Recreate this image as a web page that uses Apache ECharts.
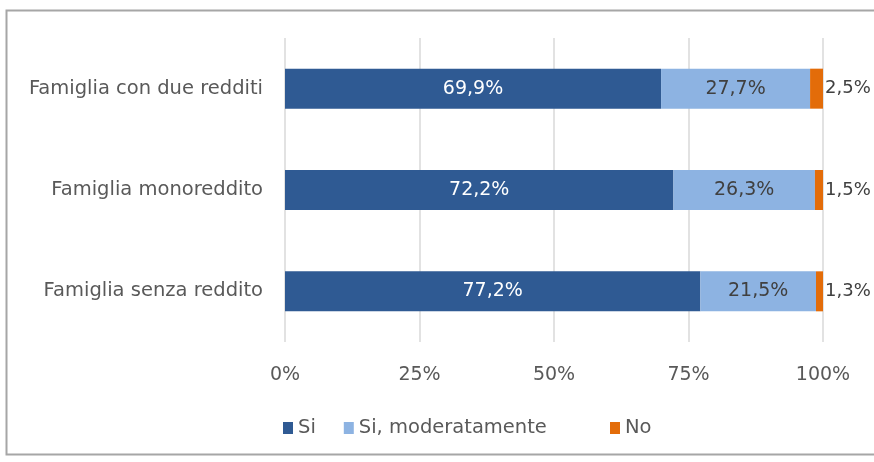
<!DOCTYPE html>
<html><head><meta charset="utf-8">
<script src="https://cdn.jsdelivr.net/npm/echarts@6/dist/echarts.min.js"></script>
<style>html,body{margin:0;padding:0;background:#fff}#c{width:874px;height:462px}</style>
</head><body><div id="c"></div>
<script>
const categories = ["Famiglia con due redditi", "Famiglia monoreddito", "Famiglia senza reddito"];
const seriesNames = ["Si", "Si, moderatamente", "No"];
const siValues = [69.9, 72.2, 77.2];
const moderatamenteValues = [27.7, 26.3, 21.5];
const noValues = [2.5, 1.5, 1.3];
const tickLabels = ["0%", "25%", "50%", "75%", "100%"];

const fmt = v => v.toFixed(1).replace('.', ',') + '%';
const font = '"DejaVu Sans", sans-serif';
const fs = 19;
const fsBig = 19.5;
const legendBase = {
  bottom: 19, itemWidth: 10, itemHeight: 12, itemGap: 28, icon: 'rect',
  textStyle: {fontSize: fsBig, color: '#595959', fontFamily: font}
};
const chart = echarts.init(document.getElementById('c'));
chart.setOption({
  animation: false,
  textStyle: {fontFamily: font},
  graphic: [{type: 'rect', shape: {x: 6.5, y: 10.5, width: 880, height: 444}, style: {fill: 'none', stroke: '#a6a6a6', lineWidth: 2}}],
  grid: {left: 285, right: 51, top: 38, bottom: 120},
  legend: [
    Object.assign({}, legendBase, {left: 278, data: [seriesNames[0], seriesNames[1]]}),
    Object.assign({}, legendBase, {left: 605, data: [seriesNames[2]]})
  ],
  xAxis: {
    type: 'value', min: 0, max: 100, interval: 25,
    axisLabel: {formatter: v => tickLabels[v / 25], fontSize: fs, color: '#595959', margin: 24, fontFamily: font},
    splitLine: {lineStyle: {color: '#d9d9d9', width: 1.5}},
    axisLine: {show: false}, axisTick: {show: false}
  },
  yAxis: {
    type: 'category', data: categories, inverse: true,
    axisLabel: {fontSize: fsBig, color: '#595959', margin: 22, fontFamily: font},
    axisLine: {show: false}, axisTick: {show: false}
  },
  series: [
    {name: seriesNames[0], type: 'bar', stack: 's', data: siValues, barWidth: 40,
     itemStyle: {color: '#2F5A93'},
     label: {show: true, position: 'inside', color: '#ffffff', fontSize: fs, fontFamily: font, formatter: p => fmt(p.value)}},
    {name: seriesNames[1], type: 'bar', stack: 's', data: moderatamenteValues, barWidth: 40,
     itemStyle: {color: '#8DB3E2'},
     label: {show: true, position: 'inside', color: '#404040', fontSize: fs, fontFamily: font, formatter: p => fmt(p.value)}},
    {name: seriesNames[2], type: 'bar', stack: 's', data: noValues, barWidth: 40,
     itemStyle: {color: '#E36C09'},
     label: {show: true, position: 'right', distance: 2, color: '#404040', fontSize: 18, fontFamily: font, formatter: p => fmt(p.value)}}
  ]
});
</script></body></html>
